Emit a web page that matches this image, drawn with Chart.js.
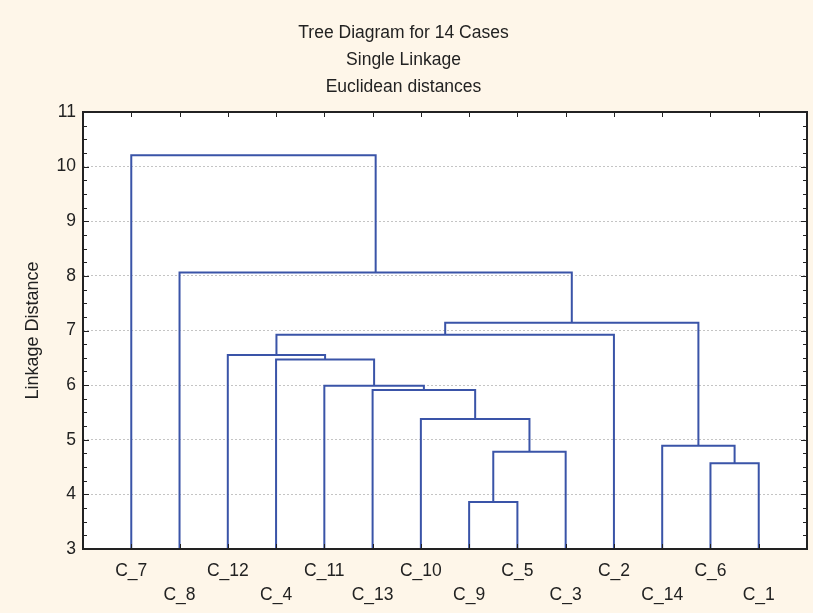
<!DOCTYPE html>
<html>
<head>
<meta charset="utf-8">
<script src="https://cdn.jsdelivr.net/npm/chart.js@4"></script>
<style>
  body { margin: 0; background: #fef6e9; }
  canvas { display: block; }
</style>
</head>
<body>
<canvas id="tree" width="813" height="613"></canvas>
<script>
// leaf order along the x axis
const leaves = ['C_7', 'C_8', 'C_12', 'C_4', 'C_11', 'C_13', 'C_10', 'C_9', 'C_5', 'C_3', 'C_2', 'C_14', 'C_6', 'C_1'];

// merge steps: left member, right member, linkage distance
const mergeLeft   = ['C_9', 'M1', 'C_10', 'C_13', 'C_11', 'C_4', 'C_12', 'C_6', 'C_14', 'M7', 'M10', 'C_8', 'C_7'];
const mergeRight  = ['C_5', 'C_3', 'M2', 'M3', 'M4', 'M5', 'M6', 'C_1', 'M8', 'C_2', 'M9', 'M11', 'M12'];
const mergeHeight = [3.86, 4.78, 5.38, 5.91, 5.99, 6.47, 6.55, 4.57, 4.89, 6.92, 7.14, 8.06, 10.21];

const yTicks = [3, 4, 5, 6, 7, 8, 9, 10, 11];

const lineColor = '#3a54a8';
const inkColor = '#222222';
const fontFamily = '"Liberation Sans", Arial, sans-serif';

// node positions: leaves sit at 1..14, merges at the middle of their two members
const nodes = {};
leaves.forEach((name, i) => { nodes[name] = { x: i + 1, y: yTicks[0] }; });

const datasets = [];
mergeHeight.forEach((h, i) => {
    const a = nodes[mergeLeft[i]];
    const b = nodes[mergeRight[i]];
    nodes['M' + (i + 1)] = { x: (a.x + b.x) / 2, y: h };
    datasets.push({
        data: [{ x: a.x, y: a.y }, { x: a.x, y: h }, { x: b.x, y: h }, { x: b.x, y: b.y }],
        showLine: true,
        borderColor: lineColor,
        borderWidth: 2,
        pointRadius: 0,
        tension: 0
    });
});

// cream page + white plot area
const backdrop = {
    id: 'backdrop',
    beforeDraw(chart) {
        const { ctx, chartArea: a } = chart;
        ctx.save();
        ctx.fillStyle = '#fef6e9';
        ctx.fillRect(0, 0, chart.width, chart.height);
        ctx.fillStyle = '#ffffff';
        ctx.fillRect(a.left, a.top, a.right - a.left, a.bottom - a.top);
        ctx.restore();
    }
};

// frame with inward ticks on all four sides
const frame = {
    id: 'frame',
    afterDraw(chart) {
        const { ctx, chartArea: a, scales } = chart;
        ctx.save();
        ctx.strokeStyle = inkColor;
        ctx.lineWidth = 1;
        ctx.beginPath();
        for (let v = yTicks[0]; v <= yTicks[yTicks.length - 1] + 1e-6; v += 0.25) {
            const y = Math.round(scales.y.getPixelForValue(v)) + 0.5;
            const len = Math.abs(v - Math.round(v)) < 1e-6 ? 6 : 4;
            ctx.moveTo(a.left, y); ctx.lineTo(a.left + len, y);
            ctx.moveTo(a.right, y); ctx.lineTo(a.right - len, y);
        }
        leaves.forEach((name, i) => {
            const x = Math.round(scales.x.getPixelForValue(i + 1)) + 0.5;
            ctx.moveTo(x, a.top); ctx.lineTo(x, a.top + 5);
            ctx.moveTo(x, a.bottom); ctx.lineTo(x, a.bottom - 5);
        });
        ctx.stroke();
        ctx.lineWidth = 2;
        ctx.strokeRect(a.left, a.top, a.right - a.left, a.bottom - a.top);
        ctx.restore();
    }
};

new Chart(document.getElementById('tree'), {
    type: 'scatter',
    data: { datasets: datasets },
    plugins: [backdrop, frame],
    options: {
        responsive: false,
        animation: false,
        layout: { padding: { left: 0, right: 6, top: 0, bottom: 0 } },
        plugins: {
            legend: { display: false },
            tooltip: { enabled: false },
            title: {
                display: true,
                text: ['Tree Diagram for 14 Cases', 'Single Linkage', 'Euclidean distances'],
                color: inkColor,
                font: { family: fontFamily, size: 17.5, weight: 'normal', lineHeight: 27 / 17.5 },
                padding: { top: 20, bottom: 11 }
            }
        },
        scales: {
            x: {
                type: 'linear',
                min: 0,
                max: leaves.length + 1,
                afterBuildTicks(scale) {
                    scale.ticks = leaves.map((name, i) => ({ value: i + 1 }));
                },
                afterFit(scale) { scale.height = 64; },
                grid: { display: false },
                border: { display: false },
                ticks: {
                    autoSkip: false,
                    maxRotation: 0,
                    padding: 2,
                    color: inkColor,
                    font: { family: fontFamily, size: 17.5, lineHeight: 24 / 17.5 },
                    callback(value) {
                        const i = Math.round(value) - 1;
                        return i % 2 === 0 ? [leaves[i], ''] : ['', leaves[i]];
                    }
                }
            },
            y: {
                min: yTicks[0],
                max: yTicks[yTicks.length - 1],
                afterBuildTicks(scale) {
                    scale.ticks = yTicks.map(v => ({ value: v }));
                },
                afterFit(scale) { scale.width = 83; },
                grid: { color: '#c4c4c4', lineWidth: 1, drawTicks: false },
                border: { display: false, dash: [2, 2] },
                ticks: {
                    padding: 7,
                    color: inkColor,
                    font: { family: fontFamily, size: 17.5 }
                },
                title: {
                    display: true,
                    text: 'Linkage Distance',
                    color: inkColor,
                    font: { family: fontFamily, size: 18 },
                    padding: { top: 22, bottom: 0 }
                }
            }
        }
    }
});
</script>
</body>
</html>
